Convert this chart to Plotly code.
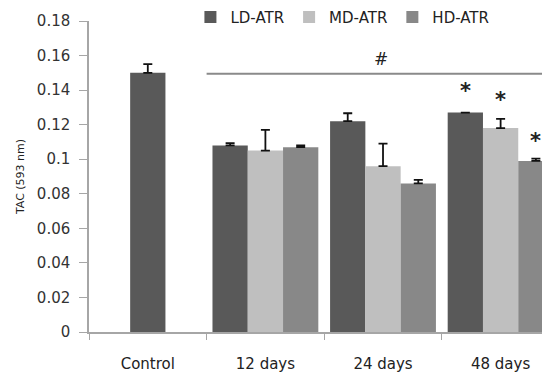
import plotly.graph_objects as go

categories = ["Control", "12 days", "24 days", "48 days"]
series_names = ["LD-ATR", "MD-ATR", "HD-ATR"]
control_value = [0.150]
control_err = [0.005]
ld_values = [0.108, 0.122, 0.127]
ld_err = [0.0013, 0.0046, None]
md_values = [0.105, 0.096, 0.118]
md_err = [0.012, 0.013, 0.0054]
hd_values = [0.107, 0.086, 0.099]
hd_err = [0.001, 0.002, 0.0013]
y_ticks = [0, 0.02, 0.04, 0.06, 0.08, 0.1, 0.12, 0.14, 0.16, 0.18]
y_tick_labels = ["0", "0.02", "0.04", "0.06", "0.08", "0.1", "0.12", "0.14", "0.16", "0.18"]
star_values = [0.1395, 0.1345, 0.1105]

colors = ["#595959", "#bfbfbf", "#888888"]
FONT = "DejaVu Sans"

fig = go.Figure()

def err(arr):
    return dict(type="data", array=arr, arrayminus=[0] * len(arr), symmetric=False,
                color="#111111", thickness=1.8, width=4.5, visible=True)

fig.add_trace(go.Bar(x=categories[:1], y=control_value, width=0.3, offset=-0.15,
                     marker=dict(color=colors[0], line=dict(width=0)),
                     error_y=err(control_err), showlegend=False))
for name, vals, errs, col, off in zip(series_names, [ld_values, md_values, hd_values],
                                      [ld_err, md_err, hd_err], colors, [-0.45, -0.15, 0.15]):
    fig.add_trace(go.Bar(x=categories[1:], y=vals, name=name, width=0.3, offset=off,
                         marker=dict(color=col, line=dict(width=0)),
                         error_y=err(errs)))

# significance line and marks
fig.add_shape(type="line", xref="x", yref="paper", x0=0.5, x1=3.42, y0=0.1495 / 0.18, y1=0.1495 / 0.18,
              line=dict(color="#8a8a8a", width=2))
fig.add_annotation(x=1.98, y=0.1495, text="#", showarrow=False, yanchor="bottom", yshift=3,
                   font=dict(family=FONT, size=17, color="#222222"))
for i, off in enumerate([-0.3, 0.0, 0.3]):
    fig.add_annotation(x=3 + off, y=star_values[i], text="<b>*</b>", showarrow=False,
                       font=dict(family=FONT, size=21, color="#222222"))

# page body has an 8px margin, so the figure is sized 8px smaller and shifted
fig.update_layout(
    width=542, height=364,
    margin=dict(l=81, r=0, t=13, b=40, autoexpand=False),
    paper_bgcolor="white", plot_bgcolor="white",
    barmode="overlay",
    font=dict(family=FONT, size=15, color="#333333"),
    legend=dict(orientation="h", x=0.22, xanchor="left", y=1.012, yanchor="middle",
                font=dict(family=FONT, size=15, color="#222222"), itemwidth=30,
                traceorder="normal", bgcolor="rgba(0,0,0,0)"),
    xaxis=dict(type="category", categoryorder="array", categoryarray=categories,
               range=[-0.5, 3.42], showline=True, linecolor="#a6a6a6", linewidth=1.5,
               ticks="outside", tickson="boundaries", ticklen=6, tickcolor="#a6a6a6",
               ticklabelstandoff=17, showgrid=False, zeroline=False, automargin=False,
               tickfont=dict(family=FONT, size=15, color="#222222")),
    yaxis=dict(range=[0, 0.18], tickvals=y_ticks, ticktext=y_tick_labels,
               showline=True, linecolor="#a6a6a6", linewidth=1.5,
               ticks="outside", ticklen=8, tickcolor="#a6a6a6", ticklabelstandoff=6,
               showgrid=False, zeroline=False, automargin=False,
               tickfont=dict(family=FONT, size=15, color="#333333"),
               title=dict(text="TAC (593 nm)", standoff=10,
                          font=dict(family=FONT, size=11, color="#222222"))),
)

fig.write_html("out.html")
